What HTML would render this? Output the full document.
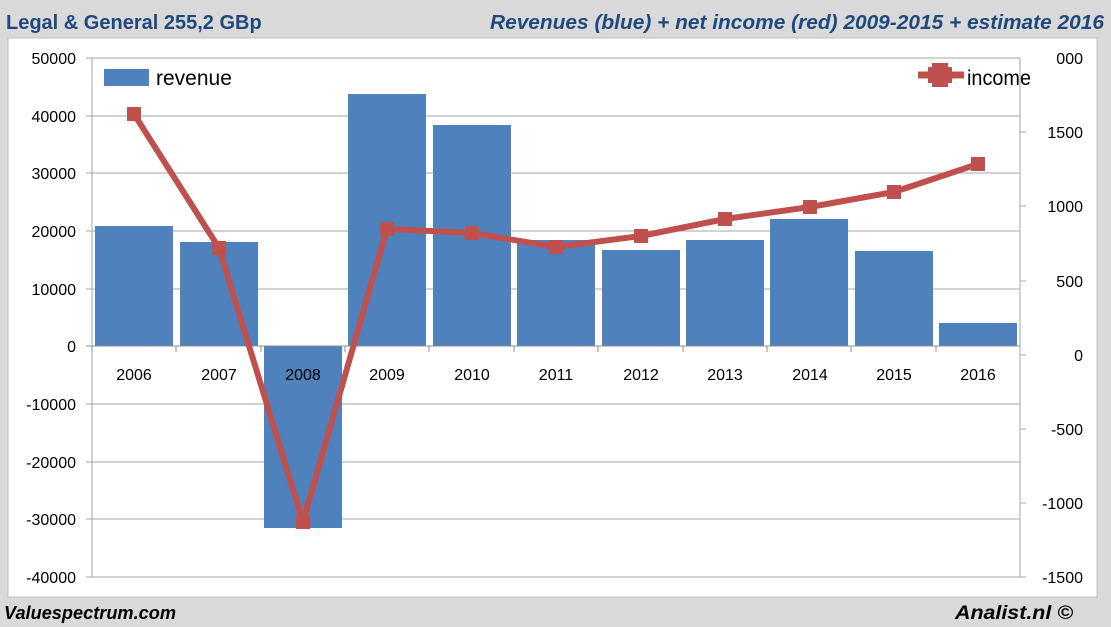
<!DOCTYPE html>
<html><head><meta charset="utf-8"><style>
html,body{margin:0;padding:0;background:#d9d9d9;}
svg{display:block;font-family:"Liberation Sans",sans-serif;}
</style></head><body>
<svg width="1111" height="627" xmlns="http://www.w3.org/2000/svg">
<rect x="0" y="0" width="1111" height="627" fill="#d9d9d9"/>
<rect x="8" y="38" width="1089" height="559" fill="#fff" stroke="#bfbfbf"/>
<text x="6" y="29" font-size="20" font-weight="bold" fill="#1f497d">Legal &amp; General 255,2 GBp</text>
<text x="1104" y="29" font-size="20" font-weight="bold" font-style="italic" fill="#1f497d" text-anchor="end" textLength="614" lengthAdjust="spacingAndGlyphs">Revenues (blue) + net income (red) 2009-2015 + estimate 2016</text>
<text x="4" y="619" font-size="18" font-weight="bold" font-style="italic" fill="#000" textLength="172" lengthAdjust="spacingAndGlyphs">Valuespectrum.com</text>
<text x="955" y="619" font-size="19" font-weight="bold" font-style="italic" fill="#000" textLength="118" lengthAdjust="spacingAndGlyphs">Analist.nl ©</text>
<g stroke="#a6a6a6" stroke-width="1">
<line x1="86" y1="58" x2="1020" y2="58"/>
<line x1="86" y1="116" x2="1020" y2="116"/>
<line x1="86" y1="173" x2="1020" y2="173"/>
<line x1="86" y1="231" x2="1020" y2="231"/>
<line x1="86" y1="289" x2="1020" y2="289"/>
<line x1="86" y1="404" x2="1020" y2="404"/>
<line x1="86" y1="462" x2="1020" y2="462"/>
<line x1="86" y1="519" x2="1020" y2="519"/>
<line x1="86" y1="577" x2="1020" y2="577"/>
<line x1="92" y1="58" x2="92" y2="577"/>
<line x1="1020" y1="58" x2="1020" y2="577"/>
<line x1="1020" y1="132" x2="1026" y2="132"/><line x1="1020" y1="206" x2="1026" y2="206"/>
<line x1="1020" y1="281" x2="1026" y2="281"/><line x1="1020" y1="355" x2="1026" y2="355"/>
<line x1="1020" y1="429" x2="1026" y2="429"/><line x1="1020" y1="503" x2="1026" y2="503"/>
<line x1="1020" y1="577" x2="1026" y2="577"/>
</g>
<g fill="#4f81bd">
<rect x="95" y="226" width="78" height="120"/>
<rect x="180" y="242" width="78" height="104"/>
<rect x="264" y="346" width="78" height="182"/>
<rect x="348" y="94" width="78" height="252"/>
<rect x="433" y="125" width="78" height="221"/>
<rect x="517" y="240" width="78" height="106"/>
<rect x="602" y="250" width="78" height="96"/>
<rect x="686" y="240" width="78" height="106"/>
<rect x="770" y="219" width="78" height="127"/>
<rect x="855" y="251" width="78" height="95"/>
<rect x="939" y="323" width="78" height="23"/>
</g>
<g stroke="#8c8c8c"><line x1="86" y1="346" x2="1020" y2="346"/>
<line x1="92" y1="346" x2="92" y2="352"/><line x1="176" y1="346" x2="176" y2="352"/><line x1="261" y1="346" x2="261" y2="352"/><line x1="345" y1="346" x2="345" y2="352"/><line x1="429" y1="346" x2="429" y2="352"/><line x1="514" y1="346" x2="514" y2="352"/><line x1="598" y1="346" x2="598" y2="352"/><line x1="683" y1="346" x2="683" y2="352"/><line x1="767" y1="346" x2="767" y2="352"/><line x1="851" y1="346" x2="851" y2="352"/><line x1="936" y1="346" x2="936" y2="352"/></g>
<g font-size="16" fill="#000" text-anchor="end">
<text x="76" y="64">50000</text><text x="76" y="122">40000</text><text x="76" y="179">30000</text>
<text x="76" y="237">20000</text><text x="76" y="295">10000</text><text x="76" y="352">0</text>
<text x="76" y="410">-10000</text><text x="76" y="468">-20000</text><text x="76" y="525">-30000</text>
<text x="76" y="583">-40000</text>
</g>
<g font-size="16" fill="#000" text-anchor="end">
<text x="1083" y="64">000</text><text x="1083" y="138">1500</text><text x="1083" y="212">1000</text>
<text x="1083" y="287">500</text><text x="1083" y="361">0</text><text x="1083" y="435">-500</text>
<text x="1083" y="509">-1000</text><text x="1083" y="583">-1500</text>
</g>
<g font-size="16" fill="#000" text-anchor="middle">
<text x="134" y="380">2006</text><text x="219" y="380">2007</text><text x="303" y="380">2008</text>
<text x="387" y="380">2009</text><text x="472" y="380">2010</text><text x="556" y="380">2011</text>
<text x="641" y="380">2012</text><text x="725" y="380">2013</text><text x="810" y="380">2014</text>
<text x="894" y="380">2015</text><text x="978" y="380">2016</text>
</g>
<polyline fill="none" stroke="#c0504d" stroke-width="6" stroke-linejoin="round" points="134,114 219,248 303,522 387,229 472,233 556,247 641,236 725,219 810,207 894,192 978,164"/>
<g fill="#c0504d">
<rect x="127" y="107" width="14" height="14"/><rect x="212" y="241" width="14" height="14"/>
<rect x="296" y="515" width="14" height="14"/><rect x="380" y="222" width="14" height="14"/>
<rect x="465" y="226" width="14" height="14"/><rect x="549" y="240" width="14" height="14"/>
<rect x="634" y="229" width="14" height="14"/><rect x="718" y="212" width="14" height="14"/>
<rect x="803" y="200" width="14" height="14"/><rect x="887" y="185" width="14" height="14"/>
<rect x="971" y="157" width="14" height="14"/>
</g>
<rect x="104" y="69" width="45" height="17" fill="#4f81bd"/>
<text x="156" y="85" font-size="21" fill="#000">revenue</text>
<line x1="918" y1="75" x2="964" y2="75" stroke="#c0504d" stroke-width="7"/>
<rect x="932" y="63" width="16" height="24" fill="#c0504d"/>
<rect x="928" y="67" width="24" height="16" fill="#c0504d"/>
<text x="967" y="85" font-size="21" fill="#000" textLength="64" lengthAdjust="spacingAndGlyphs">income</text>
</svg>
</body></html>
